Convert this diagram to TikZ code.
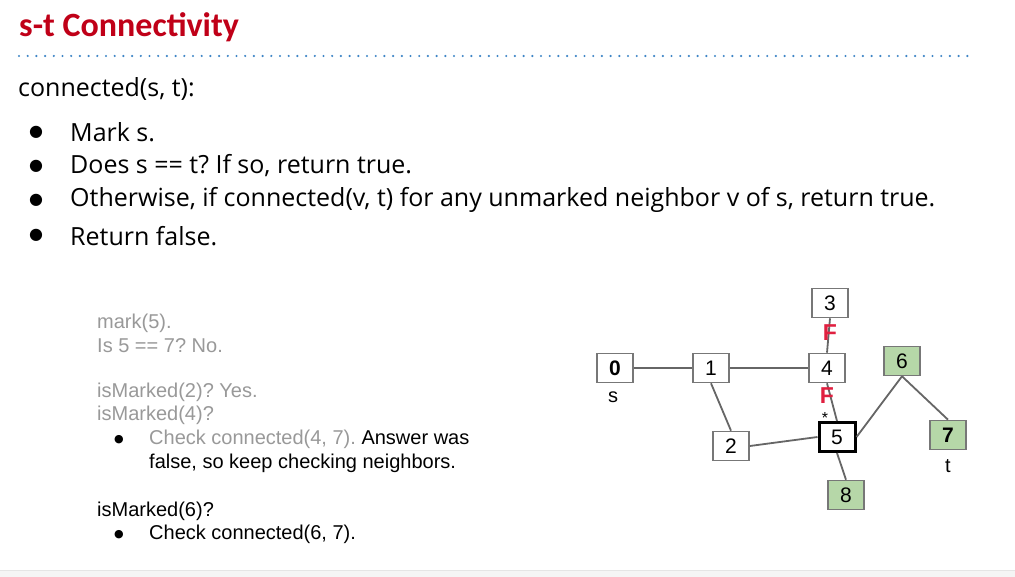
\documentclass[tikz,border=0pt]{standalone}
\usepackage{fontspec}
\setmainfont{Liberation Sans}
\newfontfamily\titlefont{Carlito}
\newfontfamily\bodyfont{Open Sans}
\newfontfamily\symfont{DejaVu Sans}
\frenchspacing
\definecolor{titlered}{HTML}{C00018}
\definecolor{dotblue}{HTML}{3D85C6}
\definecolor{edgegray}{HTML}{666666}
\definecolor{boxgray}{HTML}{777777}
\definecolor{textgray}{HTML}{999999}
\definecolor{vgreen}{HTML}{B6D7A8}
\definecolor{fred}{HTML}{E02040}
\tikzset{
  vbox/.style={draw=boxgray, line width=1.6pt, fill=white, minimum width=36pt, minimum height=29pt, inner sep=0pt, font=\fontsize{21}{21}\selectfont},
  vgreenbox/.style={vbox, fill=vgreen},
  vmark/.style={vbox, draw=black, line width=3pt},
  edge/.style={draw=edgegray, line width=1.8pt},
  bigtxt/.style={anchor=west, inner sep=0pt, font=\bodyfont\fontsize{25}{25}\selectfont},
  bigbul/.style={inner sep=0pt, font=\symfont\fontsize{16}{16}\selectfont},
  smtxt/.style={anchor=west, inner sep=0pt, font=\fontsize{20}{20}\selectfont},
  smbul/.style={inner sep=0pt, font=\symfont\fontsize{11}{11}\selectfont},
  flabel/.style={inner sep=0pt, text=fred, font=\bfseries\fontsize{23}{23}\selectfont},
  vlabel/.style={inner sep=0pt, font=\fontsize{20}{20}\selectfont},
}
\begin{document}
\begin{tikzpicture}[x=1pt,y=-1pt]
\useasboundingbox (0,0) rectangle (1015,577);
\fill[white] (0,0) rectangle (1015,577);
% bottom strip
\fill[black!4] (0,570) rectangle (1015,577);
\draw[black!10, line width=0.8pt] (0,570) -- (1015,570);
% title
\node[anchor=west, inner sep=0pt, text=titlered, font=\titlefont\bfseries\fontsize{34}{34}\selectfont] (title) at (19,27) {s-t Connectivity};
\draw[dotblue, line width=2.4pt, line cap=round, dash pattern=on 0pt off 8.7pt] (19,56) -- (968,56);
% main text
\node[bigtxt] (head) at (18,89) {connected(s, t):};
\node[bigbul] (b1) at (36,132) {●};
\node[bigtxt] (l1) at (70,132) {Mark s.};
\node[bigbul] (b2) at (36,166) {●};
\node[bigtxt] (l2) at (70,166) {Does s == t? If so, return true.};
\node[bigbul] (b3) at (36,200) {●};
\node[bigtxt] (l3) at (70,200) {Otherwise, if connected(v, t) for any unmarked neighbor v of s, return true.};
\node[bigbul] (b4) at (36,235) {●};
\node[bigtxt] (l4) at (70,236) {Return false.};
% left trace text
\node[smtxt, text=textgray] (t1) at (97,323) {mark(5).};
\node[smtxt, text=textgray] (t2) at (97,346) {Is 5 == 7? No.};
\node[smtxt, text=textgray] (t3) at (97,392) {isMarked(2)? Yes.};
\node[smtxt, text=textgray] (t4) at (97,415) {isMarked(4)?};
\node[smbul] (tb1) at (119,440) {●};
\node[smtxt] (t5) at (149,439) {\textcolor{textgray}{Check connected(4, 7).} Answer was};
\node[smtxt] (t6) at (149,463) {false, so keep checking neighbors.};
\node[smtxt] (t7) at (97,511) {isMarked(6)?};
\node[smbul] (tb2) at (119,535) {●};
\node[smtxt] (t8) at (149,534) {Check connected(6, 7).};
% graph nodes
\node[vbox] (n0) at (615,368) {\textbf{0}};
\node[vbox] (n1) at (711,368) {1};
\node[vbox] (n4) at (827,368) {4};
\node[vbox] (n3) at (830,303) {3};
\node[vgreenbox] (n6) at (902,361) {6};
\node[vgreenbox] (n7) at (948,435) {\textbf{7}};
\node[vbox] (n2) at (731,446) {2};
\node[vmark] (n5) at (837,437) {5};
\node[vgreenbox] (n8) at (846,495) {8};
\node[vlabel] (ls) at (613,397) {s};
\node[vlabel] (lt) at (948,466) {t};
% edges
\draw[edge] (n0.east) -- (n1.west);
\draw[edge] (n1.east) -- (n4.west);
\draw[edge] (n1.south) -- (n2.north);
\draw[edge] (n2.east) -- (n5.west);
\draw[edge] (n4.south) -- (n5.north);
\draw[edge] (n3.south) -- (n4.north);
\draw[edge] (n5.east) -- (n6.south);
\draw[edge] (n6.south) -- (n7.north);
\draw[edge] (n5.south) -- (n8.north);
% labels on edges
\node[flabel] (f1) at (830,333) {F};
\node[flabel] (f2) at (827,396) {F};
\node[inner sep=0pt, font=\fontsize{16}{16}\selectfont] (star) at (825,418) {*};
\end{tikzpicture}
\end{document}
